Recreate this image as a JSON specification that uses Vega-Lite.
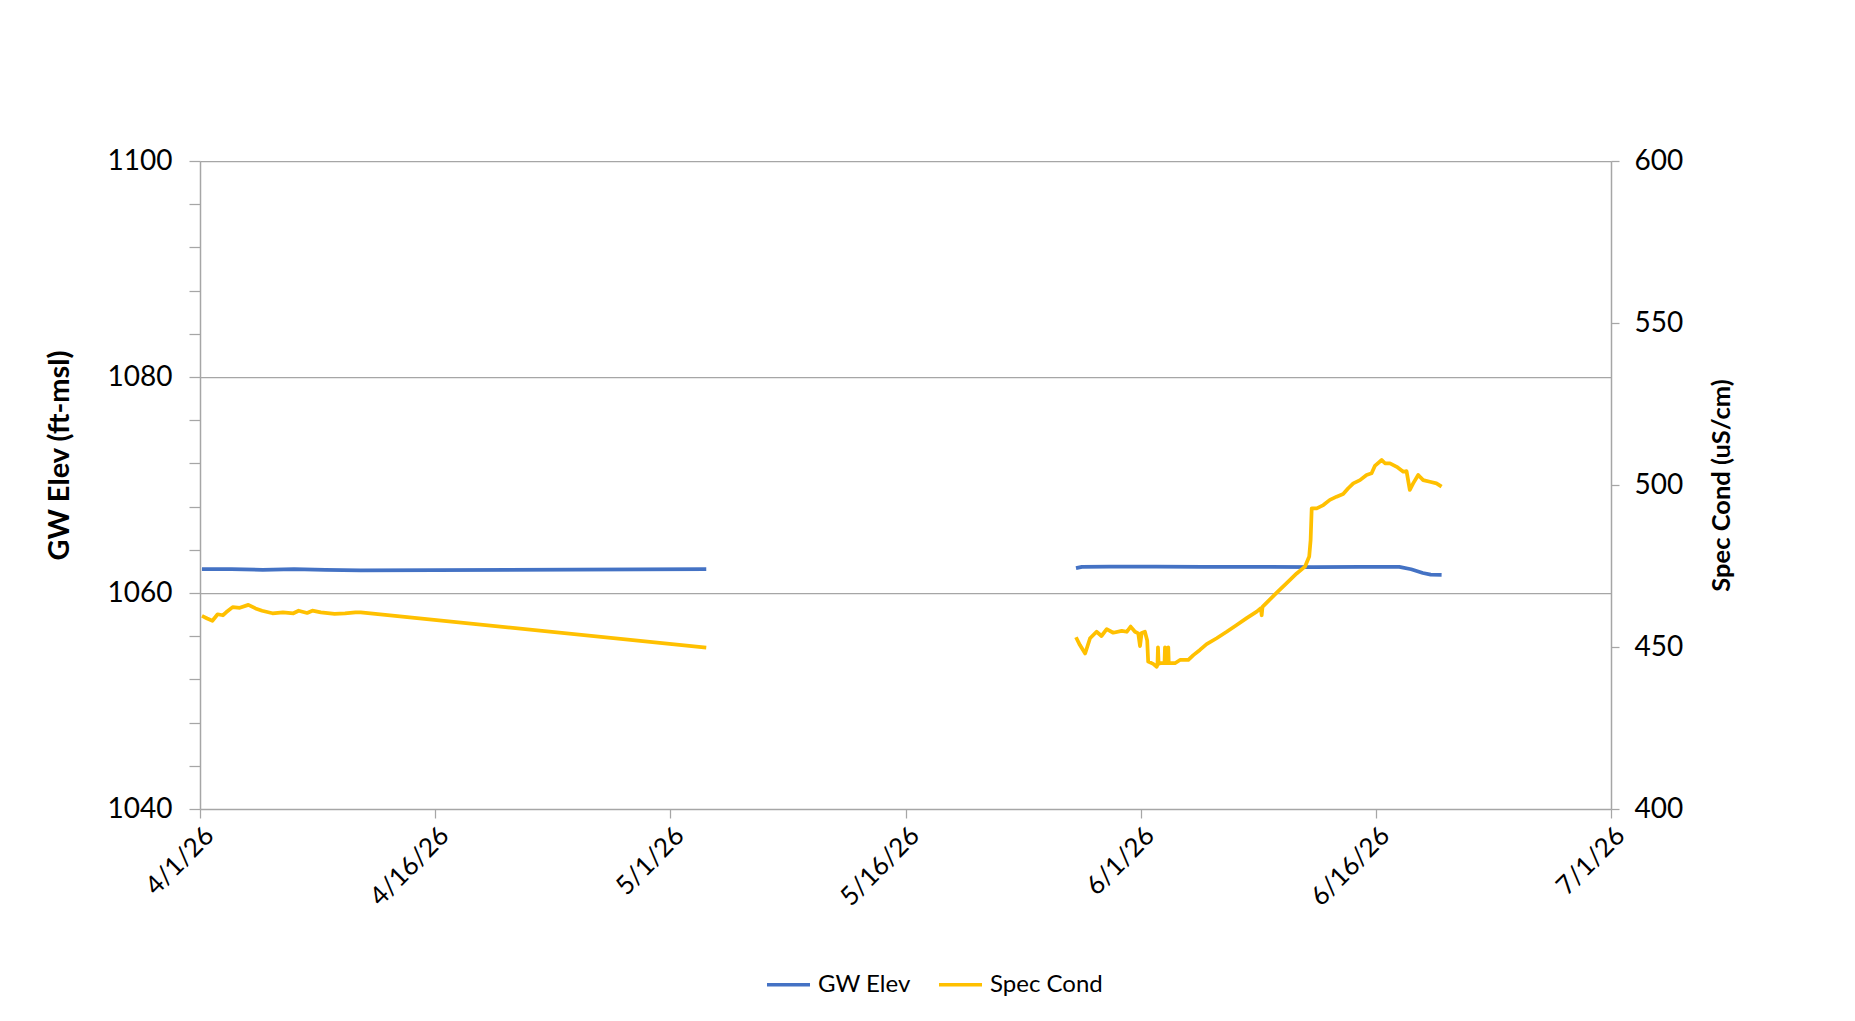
{
  "$schema": "https://vega.github.io/schema/vega-lite/v6.json",
  "width": 1411,
  "height": 648,
  "autosize": {"type": "none"},
  "padding": {"left": 200, "top": 161, "right": 244, "bottom": 212},
  "background": "white",
  "config": {"font": "Lato", "view": {"stroke": null}},
  "datasets": {
    "gw": [
      {"date": "2026-04-01T03:00", "series": "GW Elev", "seg": 1, "value": 1062.2},
      {"date": "2026-04-03T00:00", "series": "GW Elev", "seg": 1, "value": 1062.2},
      {"date": "2026-04-05T00:00", "series": "GW Elev", "seg": 1, "value": 1062.15},
      {"date": "2026-04-07T00:00", "series": "GW Elev", "seg": 1, "value": 1062.2},
      {"date": "2026-04-09T00:00", "series": "GW Elev", "seg": 1, "value": 1062.15},
      {"date": "2026-04-11T06:00", "series": "GW Elev", "seg": 1, "value": 1062.1},
      {"date": "2026-05-03T07:00", "series": "GW Elev", "seg": 1, "value": 1062.2},
      {"date": "2026-05-26T21:00", "series": "GW Elev", "seg": 2, "value": 1062.3},
      {"date": "2026-05-27T06:00", "series": "GW Elev", "seg": 2, "value": 1062.42},
      {"date": "2026-05-29T00:00", "series": "GW Elev", "seg": 2, "value": 1062.45},
      {"date": "2026-06-01T00:00", "series": "GW Elev", "seg": 2, "value": 1062.45},
      {"date": "2026-06-04T00:00", "series": "GW Elev", "seg": 2, "value": 1062.42},
      {"date": "2026-06-08T00:00", "series": "GW Elev", "seg": 2, "value": 1062.42},
      {"date": "2026-06-11T00:00", "series": "GW Elev", "seg": 2, "value": 1062.4},
      {"date": "2026-06-14T00:00", "series": "GW Elev", "seg": 2, "value": 1062.43},
      {"date": "2026-06-16T12:00", "series": "GW Elev", "seg": 2, "value": 1062.42},
      {"date": "2026-06-17T06:00", "series": "GW Elev", "seg": 2, "value": 1062.2},
      {"date": "2026-06-18T00:00", "series": "GW Elev", "seg": 2, "value": 1061.85},
      {"date": "2026-06-18T12:00", "series": "GW Elev", "seg": 2, "value": 1061.7},
      {"date": "2026-06-19T04:40", "series": "GW Elev", "seg": 2, "value": 1061.68}
    ],
    "sc": [
      {"date": "2026-04-01T03:00", "series": "Spec Cond", "seg": 1, "value": 459.6},
      {"date": "2026-04-01T11:00", "series": "Spec Cond", "seg": 1, "value": 458.8},
      {"date": "2026-04-01T19:00", "series": "Spec Cond", "seg": 1, "value": 458.1},
      {"date": "2026-04-02T03:00", "series": "Spec Cond", "seg": 1, "value": 460.1},
      {"date": "2026-04-02T11:00", "series": "Spec Cond", "seg": 1, "value": 459.8},
      {"date": "2026-04-02T16:00", "series": "Spec Cond", "seg": 1, "value": 460.7},
      {"date": "2026-04-03T02:00", "series": "Spec Cond", "seg": 1, "value": 462.3},
      {"date": "2026-04-03T13:00", "series": "Spec Cond", "seg": 1, "value": 462.1},
      {"date": "2026-04-04T02:00", "series": "Spec Cond", "seg": 1, "value": 463.0},
      {"date": "2026-04-04T13:00", "series": "Spec Cond", "seg": 1, "value": 461.9},
      {"date": "2026-04-04T23:00", "series": "Spec Cond", "seg": 1, "value": 461.2},
      {"date": "2026-04-05T15:00", "series": "Spec Cond", "seg": 1, "value": 460.4},
      {"date": "2026-04-06T07:00", "series": "Spec Cond", "seg": 1, "value": 460.7},
      {"date": "2026-04-06T23:00", "series": "Spec Cond", "seg": 1, "value": 460.4},
      {"date": "2026-04-07T07:00", "series": "Spec Cond", "seg": 1, "value": 461.2},
      {"date": "2026-04-07T20:00", "series": "Spec Cond", "seg": 1, "value": 460.5},
      {"date": "2026-04-08T04:00", "series": "Spec Cond", "seg": 1, "value": 461.2},
      {"date": "2026-04-08T17:00", "series": "Spec Cond", "seg": 1, "value": 460.7},
      {"date": "2026-04-09T14:00", "series": "Spec Cond", "seg": 1, "value": 460.2},
      {"date": "2026-04-10T06:00", "series": "Spec Cond", "seg": 1, "value": 460.4},
      {"date": "2026-04-10T22:00", "series": "Spec Cond", "seg": 1, "value": 460.7},
      {"date": "2026-04-11T06:00", "series": "Spec Cond", "seg": 1, "value": 460.7},
      {"date": "2026-05-03T07:00", "series": "Spec Cond", "seg": 1, "value": 449.8},
      {"date": "2026-05-26T21:00", "series": "Spec Cond", "seg": 2, "value": 453.0},
      {"date": "2026-05-27T03:00", "series": "Spec Cond", "seg": 2, "value": 450.6},
      {"date": "2026-05-27T11:00", "series": "Spec Cond", "seg": 2, "value": 448.0},
      {"date": "2026-05-27T18:30", "series": "Spec Cond", "seg": 2, "value": 452.7},
      {"date": "2026-05-28T04:30", "series": "Spec Cond", "seg": 2, "value": 454.7},
      {"date": "2026-05-28T12:00", "series": "Spec Cond", "seg": 2, "value": 453.4},
      {"date": "2026-05-28T20:00", "series": "Spec Cond", "seg": 2, "value": 455.5},
      {"date": "2026-05-29T06:00", "series": "Spec Cond", "seg": 2, "value": 454.4},
      {"date": "2026-05-29T19:00", "series": "Spec Cond", "seg": 2, "value": 455.0},
      {"date": "2026-05-30T02:40", "series": "Spec Cond", "seg": 2, "value": 454.7},
      {"date": "2026-05-30T08:40", "series": "Spec Cond", "seg": 2, "value": 456.3},
      {"date": "2026-05-30T15:20", "series": "Spec Cond", "seg": 2, "value": 454.7},
      {"date": "2026-05-30T20:20", "series": "Spec Cond", "seg": 2, "value": 454.2},
      {"date": "2026-05-30T23:00", "series": "Spec Cond", "seg": 2, "value": 450.3},
      {"date": "2026-05-31T01:30", "series": "Spec Cond", "seg": 2, "value": 454.3},
      {"date": "2026-05-31T06:30", "series": "Spec Cond", "seg": 2, "value": 454.7},
      {"date": "2026-05-31T10:00", "series": "Spec Cond", "seg": 2, "value": 452.0},
      {"date": "2026-05-31T11:30", "series": "Spec Cond", "seg": 2, "value": 445.5},
      {"date": "2026-05-31T19:10", "series": "Spec Cond", "seg": 2, "value": 444.8},
      {"date": "2026-06-01T00:30", "series": "Spec Cond", "seg": 2, "value": 443.9},
      {"date": "2026-06-01T01:45", "series": "Spec Cond", "seg": 2, "value": 444.5},
      {"date": "2026-06-01T02:30", "series": "Spec Cond", "seg": 2, "value": 449.9},
      {"date": "2026-06-01T03:30", "series": "Spec Cond", "seg": 2, "value": 444.8},
      {"date": "2026-06-01T05:30", "series": "Spec Cond", "seg": 2, "value": 445.0},
      {"date": "2026-06-01T12:30", "series": "Spec Cond", "seg": 2, "value": 445.0},
      {"date": "2026-06-01T13:15", "series": "Spec Cond", "seg": 2, "value": 449.9},
      {"date": "2026-06-01T14:00", "series": "Spec Cond", "seg": 2, "value": 445.0},
      {"date": "2026-06-01T17:30", "series": "Spec Cond", "seg": 2, "value": 445.0},
      {"date": "2026-06-01T18:15", "series": "Spec Cond", "seg": 2, "value": 449.9},
      {"date": "2026-06-01T19:00", "series": "Spec Cond", "seg": 2, "value": 445.0},
      {"date": "2026-06-02T04:30", "series": "Spec Cond", "seg": 2, "value": 445.0},
      {"date": "2026-06-02T12:10", "series": "Spec Cond", "seg": 2, "value": 446.0},
      {"date": "2026-06-03T01:00", "series": "Spec Cond", "seg": 2, "value": 446.0},
      {"date": "2026-06-03T08:40", "series": "Spec Cond", "seg": 2, "value": 447.5},
      {"date": "2026-06-03T18:40", "series": "Spec Cond", "seg": 2, "value": 449.1},
      {"date": "2026-06-04T05:00", "series": "Spec Cond", "seg": 2, "value": 450.9},
      {"date": "2026-06-04T20:20", "series": "Spec Cond", "seg": 2, "value": 452.7},
      {"date": "2026-06-05T11:40", "series": "Spec Cond", "seg": 2, "value": 454.7},
      {"date": "2026-06-06T03:00", "series": "Spec Cond", "seg": 2, "value": 456.8},
      {"date": "2026-06-06T18:15", "series": "Spec Cond", "seg": 2, "value": 458.9},
      {"date": "2026-06-07T09:40", "series": "Spec Cond", "seg": 2, "value": 460.9},
      {"date": "2026-06-07T16:00", "series": "Spec Cond", "seg": 2, "value": 462.0},
      {"date": "2026-06-07T17:15", "series": "Spec Cond", "seg": 2, "value": 459.8},
      {"date": "2026-06-07T18:30", "series": "Spec Cond", "seg": 2, "value": 462.4},
      {"date": "2026-06-08T01:00", "series": "Spec Cond", "seg": 2, "value": 463.7},
      {"date": "2026-06-08T16:20", "series": "Spec Cond", "seg": 2, "value": 466.8},
      {"date": "2026-06-09T07:30", "series": "Spec Cond", "seg": 2, "value": 469.7},
      {"date": "2026-06-09T22:50", "series": "Spec Cond", "seg": 2, "value": 472.7},
      {"date": "2026-06-10T11:30", "series": "Spec Cond", "seg": 2, "value": 474.8},
      {"date": "2026-06-10T18:00", "series": "Spec Cond", "seg": 2, "value": 477.9},
      {"date": "2026-06-10T20:10", "series": "Spec Cond", "seg": 2, "value": 483.0},
      {"date": "2026-06-10T21:50", "series": "Spec Cond", "seg": 2, "value": 492.8},
      {"date": "2026-06-11T05:30", "series": "Spec Cond", "seg": 2, "value": 492.8},
      {"date": "2026-06-11T15:40", "series": "Spec Cond", "seg": 2, "value": 493.8},
      {"date": "2026-06-12T01:40", "series": "Spec Cond", "seg": 2, "value": 495.4},
      {"date": "2026-06-12T12:00", "series": "Spec Cond", "seg": 2, "value": 496.4},
      {"date": "2026-06-12T22:00", "series": "Spec Cond", "seg": 2, "value": 497.2},
      {"date": "2026-06-13T05:45", "series": "Spec Cond", "seg": 2, "value": 499.0},
      {"date": "2026-06-13T13:30", "series": "Spec Cond", "seg": 2, "value": 500.5},
      {"date": "2026-06-13T23:45", "series": "Spec Cond", "seg": 2, "value": 501.5},
      {"date": "2026-06-14T09:50", "series": "Spec Cond", "seg": 2, "value": 503.1},
      {"date": "2026-06-14T17:30", "series": "Spec Cond", "seg": 2, "value": 503.6},
      {"date": "2026-06-14T22:30", "series": "Spec Cond", "seg": 2, "value": 505.9},
      {"date": "2026-06-15T09:00", "series": "Spec Cond", "seg": 2, "value": 507.7},
      {"date": "2026-06-15T14:00", "series": "Spec Cond", "seg": 2, "value": 506.7},
      {"date": "2026-06-15T21:40", "series": "Spec Cond", "seg": 2, "value": 506.7},
      {"date": "2026-06-16T08:00", "series": "Spec Cond", "seg": 2, "value": 505.6},
      {"date": "2026-06-16T18:00", "series": "Spec Cond", "seg": 2, "value": 504.1},
      {"date": "2026-06-16T23:00", "series": "Spec Cond", "seg": 2, "value": 504.3},
      {"date": "2026-06-17T04:00", "series": "Spec Cond", "seg": 2, "value": 498.5},
      {"date": "2026-06-17T09:10", "series": "Spec Cond", "seg": 2, "value": 500.5},
      {"date": "2026-06-17T16:50", "series": "Spec Cond", "seg": 2, "value": 503.1},
      {"date": "2026-06-18T00:30", "series": "Spec Cond", "seg": 2, "value": 501.5},
      {"date": "2026-06-18T10:40", "series": "Spec Cond", "seg": 2, "value": 501.0},
      {"date": "2026-06-18T20:50", "series": "Spec Cond", "seg": 2, "value": 500.5},
      {"date": "2026-06-19T04:40", "series": "Spec Cond", "seg": 2, "value": 499.5}
    ]
  },
  "encoding": {
    "x": {
      "field": "date",
      "type": "temporal",
      "scale": {"domain": [{"year": 2026, "month": 4, "date": 1}, {"year": 2026, "month": 6, "date": 30}], "nice": false},
      "axis": {
        "title": null,
        "values": [
          {"year": 2026, "month": 4, "date": 1},
          {"year": 2026, "month": 4, "date": 16},
          {"year": 2026, "month": 5, "date": 1},
          {"year": 2026, "month": 5, "date": 16},
          {"year": 2026, "month": 5, "date": 31},
          {"year": 2026, "month": 6, "date": 15},
          {"year": 2026, "month": 6, "date": 30}
        ],
        "labelExpr": "['4/1/26','4/16/26','5/1/26','5/16/26','6/1/26','6/16/26','7/1/26'][round((datum.value - datetime(2026,3,1)) / 1296000000)]",
        "labelAngle": -45,
        "labelFontSize": 26,
        "labelColor": "#000000",
        "labelPadding": 4,
        "labelFlush": false,
        "labelOverlap": false,
        "grid": false,
        "tickSize": 9,
        "tickColor": "#A6A6A6",
        "tickWidth": 1.25,
        "domainColor": "#A6A6A6",
        "domainWidth": 1.5
      }
    },
    "color": {
      "field": "series",
      "type": "nominal",
      "scale": {"domain": ["GW Elev", "Spec Cond"], "range": ["#4472C4", "#FFC000"]},
      "legend": {
        "title": null,
        "orient": "none",
        "legendX": 565,
        "legendY": 800,
        "direction": "horizontal",
        "symbolType": "stroke",
        "symbolStrokeWidth": 3.5,
        "symbolSize": 1850,
        "labelFontSize": 24,
        "labelColor": "#000000",
        "labelOffset": 6,
        "columnPadding": 20
      }
    },
    "detail": {"field": "seg", "type": "nominal"}
  },
  "layer": [
    {
      "data": {"name": "gw"},
      "mark": {"type": "line", "strokeWidth": 3.75, "strokeJoin": "round"},
      "encoding": {
        "y": {
          "field": "value",
          "type": "quantitative",
          "scale": {"domain": [1040, 1100], "nice": false, "zero": false},
          "axis": {
            "orient": "left",
            "title": "GW Elev (ft-msl)",
            "values": [1040, 1044, 1048, 1052, 1056, 1060, 1064, 1068, 1072, 1076, 1080, 1084, 1088, 1092, 1096, 1100],
            "labelExpr": "datum.value % 20 === 0 ? datum.label : ''",
            "format": "d",
            "labelFontSize": 28,
            "labelColor": "#000000",
            "labelPadding": 17,
            "tickSize": 11,
            "tickColor": "#A6A6A6",
            "tickWidth": 1.25,
            "domainColor": "#A6A6A6",
            "domainWidth": 1.5,
            "grid": true,
            "gridColor": "#A6A6A6",
            "gridWidth": 1.25,
            "gridOpacity": {"condition": {"test": "datum.value % 20 === 0 && datum.value > 1040", "value": 1}, "value": 0},
            "titleFontSize": 29,
            "titleFontWeight": "bold",
            "titleColor": "#000000",
            "titleAngle": 270,
            "titleX": -141,
            "titleY": 294,
            "titleAlign": "center",
            "titleBaseline": "middle"
          }
        }
      }
    },
    {
      "data": {"name": "sc"},
      "mark": {"type": "line", "strokeWidth": 3.75, "strokeJoin": "round"},
      "encoding": {
        "y": {
          "field": "value",
          "type": "quantitative",
          "scale": {"domain": [400, 600], "nice": false, "zero": false},
          "axis": {
            "orient": "right",
            "title": "Spec Cond (uS/cm)",
            "values": [400, 450, 500, 550, 600],
            "labelFontSize": 28,
            "labelColor": "#000000",
            "labelPadding": 15,
            "tickSize": 8,
            "tickColor": "#A6A6A6",
            "tickWidth": 1.25,
            "domainColor": "#A6A6A6",
            "domainWidth": 1.5,
            "grid": false,
            "titleFontSize": 25.5,
            "titleFontWeight": "bold",
            "titleColor": "#000000",
            "titleAngle": 270,
            "titleX": 110,
            "titleY": 324,
            "titleAlign": "center",
            "titleBaseline": "middle"
          }
        }
      }
    }
  ],
  "resolve": {"scale": {"y": "independent"}}
}
